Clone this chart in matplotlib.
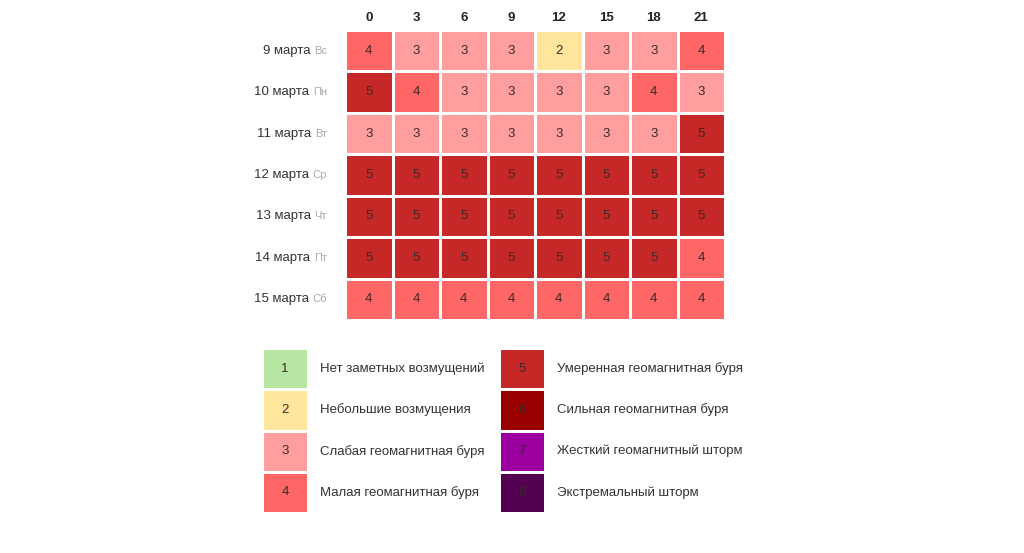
import numpy as np
import matplotlib
matplotlib.use("Agg")
from matplotlib import pyplot as plt
from matplotlib.colors import ListedColormap, BoundaryNorm

plt.rcParams['font.family'] = ['Liberation Sans', 'DejaVu Sans']

hours = ["0", "3", "6", "9", "12", "15", "18", "21"]
dates = ["9 марта", "10 марта", "11 марта", "12 марта", "13 марта", "14 марта", "15 марта"]
weekdays = ["Вс", "Пн", "Вт", "Ср", "Чт", "Пт", "Сб"]
kp = [
    [4, 3, 3, 3, 2, 3, 3, 4],
    [5, 4, 3, 3, 3, 3, 4, 3],
    [3, 3, 3, 3, 3, 3, 3, 5],
    [5, 5, 5, 5, 5, 5, 5, 5],
    [5, 5, 5, 5, 5, 5, 5, 5],
    [5, 5, 5, 5, 5, 5, 5, 4],
    [4, 4, 4, 4, 4, 4, 4, 4],
]
levels = [1, 2, 3, 4, 5, 6, 7, 8]
level_names = ["Нет заметных возмущений", "Небольшие возмущения",
               "Слабая геомагнитная буря", "Малая геомагнитная буря",
               "Умеренная геомагнитная буря", "Сильная геомагнитная буря",
               "Жесткий геомагнитный шторм", "Экстремальный шторм"]
level_colors = ["#b6e6a2", "#ffe69c", "#ff9e9e", "#ff6666",
                "#c62828", "#990000", "#9c00a0", "#52004f"]

cmap = ListedColormap(level_colors)
norm = BoundaryNorm(np.arange(0.5, 9.5, 1), cmap.N)

W, H = 1024, 553
fig = plt.figure(figsize=(W / 100, H / 100), dpi=100)


def px_axes(x0, y0, x1, y1):
    return fig.add_axes([x0 / W, 1 - y1 / H, (x1 - x0) / W, (y1 - y0) / H])


# main grid
ax = px_axes(345, 30, 725, 320)
data = np.array(kp)
ax.pcolormesh(data, cmap=cmap, norm=norm, edgecolors="white", linewidth=1.0)
ax.set_xlim(0, len(hours))
ax.set_ylim(len(dates), 0)
for i in range(data.shape[0]):
    for j in range(data.shape[1]):
        ax.text(j + 0.5, i + 0.5, str(data[i, j]), ha="center", va="center",
                fontsize=9.5, color="#3a2a2a")
ax.set_xticks(np.arange(len(hours)) + 0.5)
ax.set_xticklabels(hours, fontweight="bold", fontsize=9.5, color="#222222")
ax.xaxis.tick_top()
ax.set_yticks([])
ax.tick_params(axis="x", length=0, pad=4)
for s in ax.spines.values():
    s.set_visible(False)

for i, (d, wd) in enumerate(zip(dates, weekdays)):
    t = ax.text(-0.38, i + 0.5, wd, ha="right", va="center", fontsize=8,
                color="#aaaaaa")
    ax.annotate(d, xy=(0, 0.5), xycoords=t, xytext=(-2.5, 0),
                textcoords="offset points", ha="right", va="center",
                fontsize=9.5, color="#333333")

# legend, two columns of four
for col, x0 in enumerate([262, 499]):
    lax = px_axes(x0, 348, x0 + 46, 513)
    vals = np.array(levels[col * 4:(col + 1) * 4]).reshape(-1, 1)
    lax.pcolormesh(vals, cmap=cmap, norm=norm, edgecolors="white", linewidth=1.0)
    lax.set_xlim(0, 1)
    lax.set_ylim(4, 0)
    lax.axis("off")
    for k in range(4):
        lv = levels[col * 4 + k]
        lax.text(0.5, k + 0.5, str(lv), ha="center", va="center",
                 fontsize=9.5, color="#3a2a2a")
        lax.text(1.26, k + 0.5, level_names[lv - 1], ha="left", va="center",
                 fontsize=9.5, color="#333333", transform=lax.transData,
                 clip_on=False)

fig.savefig("out.png", dpi=100)
